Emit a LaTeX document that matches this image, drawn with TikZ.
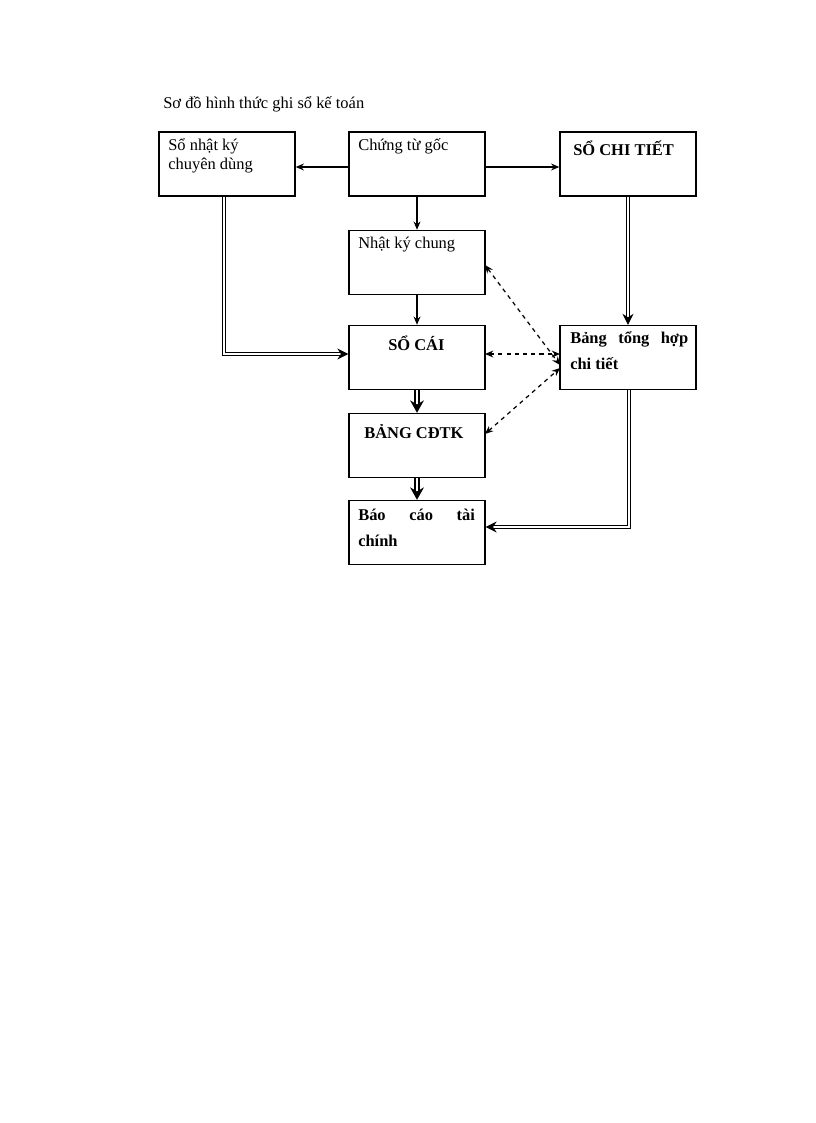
\documentclass[tikz,border=0pt]{standalone}
\usepackage{fontspec}
\setmainfont{Liberation Serif}
\usetikzlibrary{arrows.meta}
\begin{document}
\begin{tikzpicture}[x=0.729pt,y=-0.729pt,
  box/.style={draw,line width=1pt,minimum width=99.1pt,minimum height=46.7pt,inner sep=0},
  txt/.style={anchor=north west,inner sep=0,font=\fontsize{12}{14}\selectfont},
  btxt/.style={txt,font=\fontsize{12}{14}\selectfont\bfseries},
  arr/.style={-{Stealth[length=6pt,width=5pt]},line width=1pt},
  dbl/.style={double,double distance=1.8pt,line width=0.8pt,-{Stealth[length=8pt,width=8pt]}},
  thk/.style={double,double distance=1.5pt,line width=1.3pt,-{Stealth[length=9pt,width=10pt]}},
  dsh/.style={dashed,line width=0.9pt,{Stealth[length=6pt,width=5pt]}-{Stealth[length=6pt,width=5pt]}}]
\useasboundingbox (0,0) rectangle (816,1123);
\node[txt,anchor=west] (title) at (163,104) {Sơ đồ hình thức ghi sổ kế toán};
\node[box] (nkd) at (227,164) {};
\node[box] (ctg) at (417,164) {};
\node[box] (sct) at (628,164) {};
\node[box] (nkc) at (417,262.5) {};
\node[box] (sc) at (417,357.5) {};
\node[box] (bth) at (628,357.5) {};
\node[box] (cdtk) at (417,445.5) {};
\node[box] (bctc) at (417,532.5) {};
\node[txt,align=left] (t1) at (168,138) {Sổ nhật ký\\chuyên dùng};
\node[txt] (t2) at (358,138) {Chứng từ gốc};
\node[btxt] (t3) at (573,141) {SỔ CHI TIẾT};
\node[txt] (t4) at (358,237) {Nhật ký chung};
\node[btxt] (t5) at (388,336) {SỔ CÁI};
\node[btxt,align=left] (t6) at (570,331) {\makebox[86pt][s]{Bảng\hfill tổng\hfill hợp}\\[5pt]chi tiết};
\node[btxt] (t7) at (364,424) {BẢNG CĐTK};
\node[btxt,align=left] (t8) at (358,509) {\makebox[85pt][s]{Báo\hfill cáo\hfill tài}\\[5pt]chính};
\draw[arr] (ctg.west|-0,167) -- (nkd.east|-0,167);
\draw[arr] (ctg.east|-0,167) -- (sct.west|-0,167);
\draw[arr] (ctg) -- (nkc);
\draw[arr] (nkc) -- (sc);
\coordinate (c1) at (224,354);
\draw[dbl] (nkd.south-|c1) -- (c1) -- (sc.west|-c1);
\draw[dbl] (sct) -- (bth);
\coordinate (c2) at (629,527);
\draw[dbl] (bth.south-|c2) -- (c2) -- (bctc.east|-c2);
\draw[thk] (sc) -- (cdtk);
\draw[thk] (cdtk) -- (bctc);
\draw[dsh] (485,265) -- (560,365);
\draw[dsh] (485,354) -- (560,354);
\draw[dsh] (485,434) -- (560,368);
\end{tikzpicture}
\end{document}
